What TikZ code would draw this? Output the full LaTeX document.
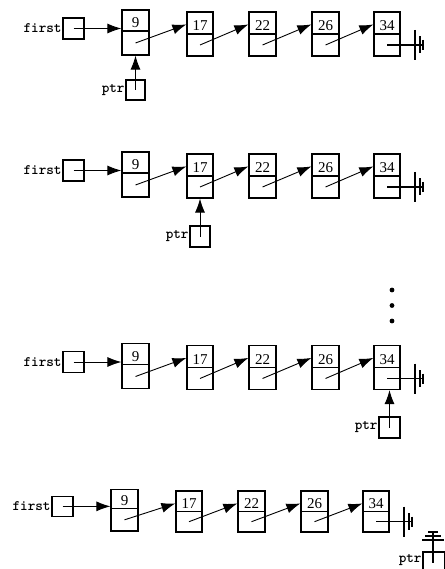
\documentclass[tikz,border=0pt]{standalone}
\usepackage{fontspec}
\setmainfont{Liberation Serif}
\usetikzlibrary{arrows.meta,fit,calc}

\tikzset{
  cell/.style={draw, line width=1.2pt, inner sep=0pt, rectangle},
  divider/.style={line width=1.2pt},
  val/.style={font=\fontsize{15}{15}\selectfont, inner sep=0pt, anchor=base},
  lbl/.style={font=\ttfamily\bfseries\fontsize{14.5}{14.5}\selectfont, inner sep=0.6pt, anchor=east},
  link/.style={line width=0.9pt, -{Latex[length=14pt,width=10pt]}},
  nullbar/.style={line width=1.2pt},
}

% Row frame: x offset \rx, top of the row \ry, vertical scale \rs
\def\rx{0}\def\ry{12}\def\rs{1}
\newcommand\RY[1]{\ry+\rs*(#1-12)}

% #1 name, #2 left, #3 right, #4 top, #5 divider, #6 bottom, #7 value
\newcommand\cellnode[7]{%
  \node[cell, fit={({\rx+#2},{\RY{#4}}) ({\rx+#3},{\RY{#6}})}] (#1) {};
  \coordinate (#1d) at ({\rx+(#2+#3)/2},{\RY{#5}});
  \draw[divider] (#1.west |- #1d) -- (#1.east |- #1d);
  \node[val] (#1v) at ({\rx+(#2+#3)/2},{\RY{#5}-3}) {#7};
  \coordinate (#1p) at ({\rx+(#2+#3)/2},{\RY{(#5+#6)/2}});
}

% One list: first -> 9 -> 17 -> 22 -> 26 -> 34 -> null
\newcommand\listrow[1]{%
  \node[cell, fit={({\rx+63},{\RY{18}}) ({\rx+84},{\RY{39}})}] (#1f) {};
  \node[lbl] (#1fl) at (#1f.west) {first};
  \cellnode{#1a}{122}{149}{10}{31}{55}{9}
  \cellnode{#1b}{187}{213}{12}{34}{56}{17}
  \cellnode{#1c}{249}{276}{12}{34}{56}{22}
  \cellnode{#1d}{312}{339}{12}{34}{56}{26}
  \cellnode{#1e}{374}{400}{12}{34}{56}{34}
  \draw[link] (#1f.center) -- (#1a.west |- #1f.center);
  \draw[link] (#1ap) -- ([yshift=-13pt]#1b.north west);
  \draw[link] (#1bp) -- ([yshift=-13pt]#1c.north west);
  \draw[link] (#1cp) -- ([yshift=-13pt]#1d.north west);
  \draw[link] (#1dp) -- ([yshift=-13pt]#1e.north west);
  \coordinate (#1z) at ({\rx+423},{\RY{45}});
  \draw[nullbar] (#1ep) -- (#1z);
  \draw[nullbar] ([xshift=-8pt,yshift=15pt]#1z) -- ([xshift=-8pt,yshift=-15pt]#1z);
  \draw[nullbar] ([xshift=-3pt,yshift=8.5pt]#1z) -- ([xshift=-3pt,yshift=-8.5pt]#1z);
  \draw[nullbar] ([yshift=5pt]#1z) -- ([yshift=-5pt]#1z);
}

\begin{document}
\begin{tikzpicture}[x=1pt,y=-1pt]
  \useasboundingbox (0,0) rectangle (444,569);

  % ptr at the first node
  \def\rx{0}\def\ry{12}\def\rs{1}
  \listrow{r1}
  \node[cell, fit={(126,80) (145,100)}] (r1ptr) {};
  \node[lbl] (r1pl) at (r1ptr.west) {ptr};
  \draw[link] (r1ptr.center) -- (r1ptr.center |- r1a.south);

  % ptr at the second node
  \def\rx{0}\def\ry{154}\def\rs{1}
  \listrow{r2}
  \node[cell, fit={(190,226) (210,247)}] (r2ptr) {};
  \node[lbl] (r2pl) at (r2ptr.west) {ptr};
  \draw[link] (r2ptr.center) -- (r2ptr.center |- r2b.south);

  % the steps in between
  \fill (392,290) circle (2.4);
  \fill (392,305.5) circle (2.4);
  \fill (392,321) circle (2.4);

  % ptr at the last node
  \def\rx{0}\def\ry{345.5}\def\rs{1}
  \listrow{r3}
  \node[cell, fit={(379,417) (400,438)}] (r3ptr) {};
  \node[lbl] (r3pl) at (r3ptr.west) {ptr};
  \draw[link] (r3ptr.center) -- (r3ptr.center |- r3e.south);

  % ptr past the end of the list
  \def\rx{-11}\def\ry{491}\def\rs{0.93}
  \listrow{r4}
  \node[cell, fit={(423,552) (445,573)}] (r4ptr) {};
  \node[lbl] (r4pl) at ([yshift=-9pt]r4ptr.north west) {ptr};
  \coordinate (r4pz) at (433,531);
  \draw[nullbar] (r4ptr.center -| r4pz) -- (r4pz);
  \draw[nullbar] ([xshift=-11pt,yshift=-9pt]r4pz) -- ([xshift=11pt,yshift=-9pt]r4pz);
  \draw[nullbar] ([xshift=-8pt,yshift=-5pt]r4pz) -- ([xshift=8pt,yshift=-5pt]r4pz);
  \draw[nullbar] ([xshift=-5pt,yshift=-1pt]r4pz) -- ([xshift=5pt,yshift=-1pt]r4pz);
\end{tikzpicture}
\end{document}
